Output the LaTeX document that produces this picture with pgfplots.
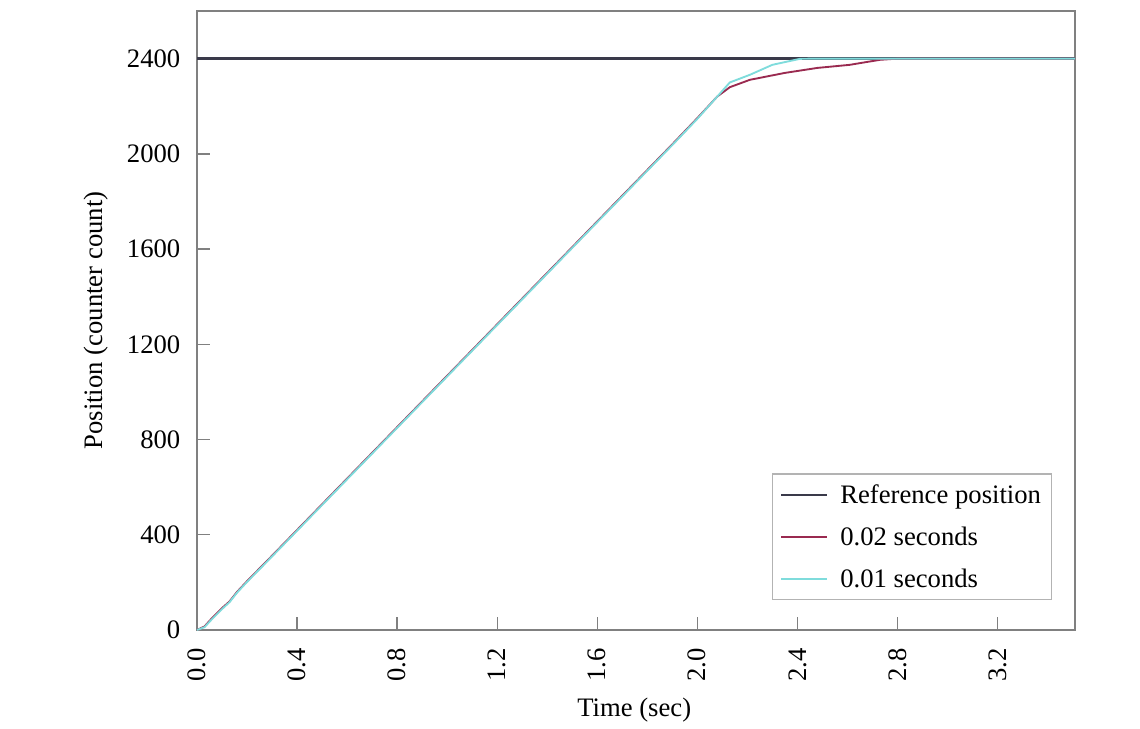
\documentclass[border=0pt]{standalone}
\usepackage{pgfplots}
\pgfplotsset{compat=1.18}
\usepackage{fontspec}
\setmainfont{Liberation Serif}
\definecolor{refc}{HTML}{3A3A4A}
\definecolor{redc}{HTML}{9A2A50}
\definecolor{cyanc}{HTML}{7FDCDC}
\definecolor{axc}{HTML}{808080}
\begin{document}
\begin{tikzpicture}
\begin{axis}[
  scale only axis,
  width=658.5pt, height=464.25pt,
  xmin=0, xmax=3.51, ymin=0, ymax=2600,
  clip=false,
  axis line style={axc, line width=1.5pt},
  tick style={axc, line width=1pt},
  tick align=inside,
  xtick pos=bottom, ytick pos=left,
  major tick length=10pt,
  xtick={0,0.4,0.8,1.2,1.6,2.0,2.4,2.8,3.2},
  ytick={0,400,800,1200,1600,2000,2400},
  xticklabel style={rotate=90, anchor=east, /pgf/number format/fixed, /pgf/number format/fixed zerofill, /pgf/number format/precision=1},
  yticklabel style={/pgf/number format/fixed, /pgf/number format/1000 sep={}},
  xticklabel shift=10pt,
  yticklabel shift=9pt,
  /pgf/number format/assume math mode=true,
  ticklabel style={font=\fontsize{20}{24}\selectfont},
  xlabel={Time (sec)},
  ylabel={Position (counter count)},
  label style={font=\fontsize{20}{24}\selectfont},
  xlabel style={at={(rel axis cs:0.498,-0.129)}, anchor=center},
  ylabel style={at={(rel axis cs:-0.115,0.5)}, anchor=center},
  legend style={at={(rel axis cs:0.974,0.048)}, anchor=south east,
    draw=axc!60, line width=0.8pt, font=\fontsize{20}{24}\selectfont,
    row sep=12pt, inner xsep=6pt, inner ysep=6pt},
  legend cell align=left,
  legend image code/.code={\draw[#1] (0cm,0cm) -- (1.2cm,0cm); \path (1.45cm,0cm);},
]
\addplot[refc, line width=1.8pt] coordinates {(0,2400) (3.51,2400)};
\addlegendentry{Reference position}
\addplot[redc, line width=1.4pt] coordinates {
(0,0) (0.03,15) (0.06,50) (0.1,92) (0.13,120) (0.16,160) (0.2,205) (0.3,312)
(0.4,420) (0.5,528) (0.6,636) (0.7,744) (0.8,852) (0.9,960) (1.0,1068)
(1.1,1176) (1.2,1284) (1.3,1392) (1.4,1500) (1.5,1608) (1.6,1716) (1.7,1824)
(1.8,1932) (1.9,2040) (2.0,2150) (2.08,2241) (2.13,2280) (2.21,2311)
(2.35,2340) (2.48,2361) (2.61,2374) (2.73,2395) (2.8,2400) (3.51,2400)};
\addlegendentry{0.02 seconds}
\addplot[cyanc, line width=1.4pt] coordinates {
(0,0) (0.03,12) (0.06,46) (0.1,88) (0.13,117) (0.16,157) (0.2,202) (0.3,309)
(0.4,417) (0.5,525) (0.6,633) (0.7,741) (0.8,849) (0.9,957) (1.0,1065)
(1.1,1173) (1.2,1281) (1.3,1389) (1.4,1497) (1.5,1605) (1.6,1713) (1.7,1821)
(1.8,1929) (1.9,2037) (2.0,2147) (2.08,2241) (2.13,2300) (2.21,2332)
(2.3,2374) (2.41,2399) (2.45,2400) (3.51,2400)};
\addlegendentry{0.01 seconds}
\path[use as bounding box] (rel axis cs:-0.2244,-0.1583) rectangle (rel axis cs:1.074,1.0178);
\end{axis}
\end{tikzpicture}
\end{document}
